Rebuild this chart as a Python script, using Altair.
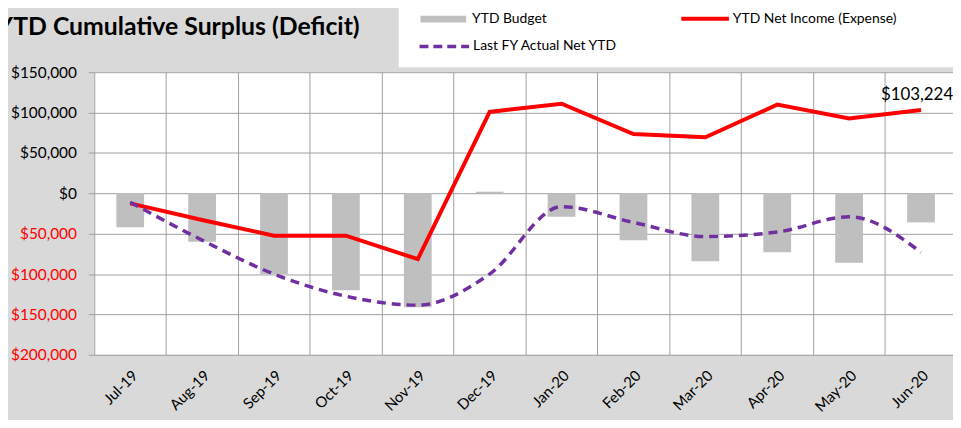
import altair as alt
import pandas as pd

months = ["Jul-19", "Aug-19", "Sep-19", "Oct-19", "Nov-19", "Dec-19",
          "Jan-20", "Feb-20", "Mar-20", "Apr-20", "May-20", "Jun-20"]
ytd_budget = [-42000, -60000, -100000, -120000, -141000, 2000,
              -29000, -58000, -84000, -73000, -86000, -36000]
ytd_net_income = [-12500, -33000, -52500, -52500, -81500, 100800,
                  111000, 73400, 69500, 109800, 92600, 103224]
last_fy_actual = [-11000, -58000, -100000, -127500, -138500, -100000,
                  -16500, -36000, -53500, -48000, -29000, -73000]
y_ticks = [150000, 100000, 50000, 0, -50000, -100000, -150000, -200000]

df = pd.DataFrame({
    "month": months,
    "budget": ytd_budget,
    "net": ytd_net_income,
    "last": last_fy_actual,
})
df_last = df.iloc[[-1]].copy()
df_last["label"] = "$" + df_last["net"].map(lambda v: f"{v:,}")

FONT = "Lato"
W, H = 866, 285

x_grid = alt.X("month:N", sort=months, title=None,
               scale=alt.Scale(paddingInner=0, paddingOuter=0, range=[0, 870]),
               axis=alt.Axis(orient="top", grid=True, bandPosition=0, labels=False,
                             ticks=False, domain=False, gridColor="#a0a0a0",
                             gridWidth=1))
x_lab = alt.X("month:N", sort=months, title=None,
              axis=alt.Axis(orient="bottom", grid=False, labelAngle=-45, ticks=False,
                            domain=False, labelFont=FONT, labelFontSize=15,
                            labelColor="#000000", labelPadding=13))
x_none = alt.X("month:N", sort=months, title=None, axis=None)
y_enc = alt.Y("budget:Q", title=None,
              scale=alt.Scale(domain=[-200000, 150000], nice=False),
              axis=alt.Axis(values=y_ticks, grid=True, gridColor="#a0a0a0",
                            tickColor="#a0a0a0", tickSize=6, domain=False,
                            labelPadding=12, labelFont=FONT, labelFontSize=15.5,
                            labelExpr="'$' + format(abs(datum.value), ',')",
                            labelColor={"condition": {"test": "datum.value < 0",
                                                      "value": "#ff0000"},
                                        "value": "#000000"}))

bars = alt.Chart(df).mark_bar(color="#bfbfbf", size=28).encode(x=x_grid, y=y_enc)

net_line = alt.Chart(df).mark_line(color="#ff0000", strokeWidth=4).encode(
    x=x_lab, y=alt.Y("net:Q"))
last_line = alt.Chart(df).mark_line(color="#7030a0", strokeWidth=3.5,
                                    strokeDash=[9, 6], interpolate="monotone").encode(
    x=x_none, y=alt.Y("last:Q"))
label = alt.Chart(df_last).mark_text(font=FONT, fontSize=17, color="#000000",
                                     dy=-15, dx=-4).encode(
    x=x_none, y=alt.Y("net:Q"), text="label:N")

# title and legend decorations
title = alt.Chart(df_last).mark_text(text="YTD Cumulative Surplus (Deficit)", font=FONT,
                                     fontSize=25, fontWeight="bold", align="left",
                                     baseline="middle", color="#000000").encode(
    x=alt.value(-98), y=alt.value(-46))
leg_box = alt.Chart(df_last).mark_rect(color="#ffffff").encode(
    x=alt.value(307), x2=alt.value(870), y=alt.value(-70), y2=alt.value(-5))
leg_bud = alt.Chart(df_last).mark_rule(color="#bfbfbf", strokeWidth=7).encode(
    x=alt.value(329), x2=alt.value(375), y=alt.value(-53.5))
leg_net = alt.Chart(df_last).mark_rule(color="#ff0000", strokeWidth=4).encode(
    x=alt.value(592), x2=alt.value(640), y=alt.value(-54))
leg_last = alt.Chart(df_last).mark_rule(color="#7030a0", strokeWidth=3.5,
                                        strokeDash=[9, 5]).encode(
    x=alt.value(328), x2=alt.value(378), y=alt.value(-26))
leg_t1 = alt.Chart(df_last).mark_text(text="YTD Budget", font=FONT, fontSize=14,
                                      align="left", baseline="middle").encode(
    x=alt.value(381), y=alt.value(-54))
leg_t2 = alt.Chart(df_last).mark_text(text="YTD Net Income (Expense)", font=FONT,
                                      fontSize=14, align="left", baseline="middle").encode(
    x=alt.value(644), y=alt.value(-54))
leg_t3 = alt.Chart(df_last).mark_text(text="Last FY Actual Net YTD", font=FONT,
                                      fontSize=14, align="left", baseline="middle").encode(
    x=alt.value(382), y=alt.value(-26))

chart = alt.layer(
    bars, net_line, last_line, label,
    leg_box, leg_bud, leg_net, leg_last, leg_t1, leg_t2, leg_t3, title
).resolve_axis(x="independent").properties(
    width=W, height=H,
    autosize=alt.AutoSizeParams(type="none"),
    padding={"left": 87, "top": 63, "right": 0, "bottom": 64},
    background="#d9d9d9",
).configure_view(fill="#ffffff", stroke=None)

chart.save("out.html", embed_options={"renderer": "svg", "actions": False})
